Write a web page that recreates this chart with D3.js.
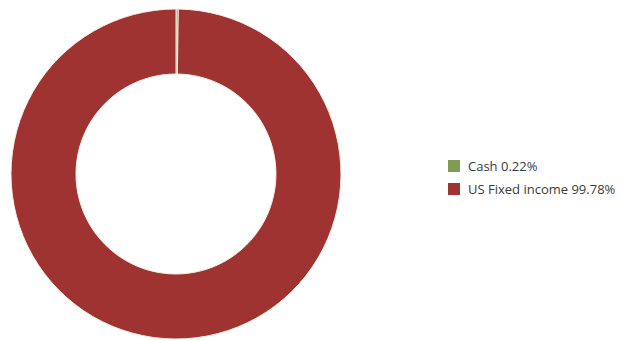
<!DOCTYPE html>
<html><head><meta charset="utf-8">
<script src="https://cdn.jsdelivr.net/npm/d3@7"></script>
<style>html,body{margin:0;padding:0;background:#fff;}</style>
</head><body>
<svg id="chart" width="619" height="341"></svg>
<script>
const categories = ["Cash", "US Fixed income"];
const values = [0.22, 99.78];
const labels = ["Cash 0.22%", "US Fixed income 99.78%"];
const colors = ["#7f9c52", "#9e3331"];

const svg = d3.select("#chart");
const cx = 176, cy = 174, outerR = 165, innerR = 100;
const pie = d3.pie().sort(null).value(d => d)(values);
const arc = d3.arc().innerRadius(innerR).outerRadius(outerR);
const color = d3.scaleOrdinal().domain(categories).range(colors);

svg.append("g").attr("transform", `translate(${cx},${cy})`)
  .selectAll("path").data(pie).join("path")
  .attr("d", arc)
  .attr("fill", (d, i) => color(categories[i]))
  .attr("stroke", "#f4efe4").attr("stroke-width", 1);

const leg = svg.append("g").attr("transform", "translate(448,160)");
const rows = leg.selectAll("g").data(categories).join("g")
  .attr("transform", (d, i) => `translate(0,${i * 23})`);
rows.append("rect").attr("width", 12).attr("height", 12)
  .attr("fill", d => color(d));
rows.append("text").attr("x", 20).attr("y", 11)
  .attr("font-family", "'Open Sans', 'DejaVu Sans', sans-serif")
  .attr("font-size", 13).attr("fill", "#3a3a3a")
  .text((d, i) => labels[i]);
</script>
</body></html>
